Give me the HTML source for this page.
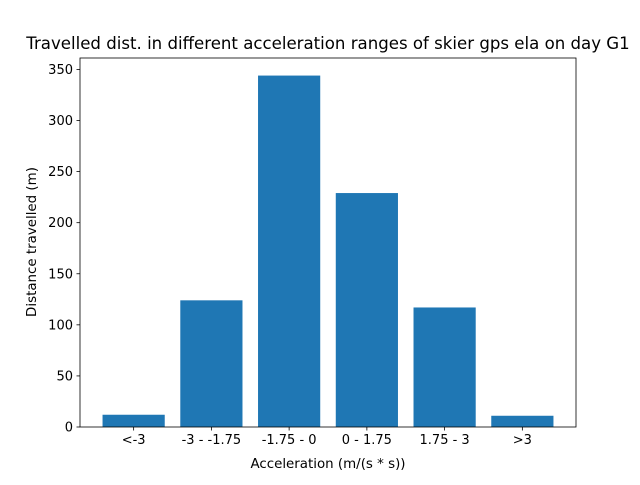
<!DOCTYPE html>
<html><head><meta charset="utf-8"><style>
body{margin:0;background:#fff}
svg text{font-family:"DejaVu Sans","Liberation Sans",sans-serif;fill:#000}
</style></head><body>
<svg width="640" height="480" xmlns="http://www.w3.org/2000/svg">
<rect width="640" height="480" fill="#fff"/>
<g id="plot"></g>
</svg>
<script>
const categories=["<-3","-3 - -1.75","-1.75 - 0","0 - 1.75","1.75 - 3",">3"];
const values=[12,124,344,229,117,11];
const yTicks=[0,50,100,150,200,250,300,350];
const L=80,R=576,T=58,B=427;
const yMax=Math.max(...values)*1.05;
const xMin=-0.4-0.05*(categories.length-1+0.8),xMax=categories.length-1+0.4+0.05*(categories.length-1+0.8);
const sx=v=>L+(v-xMin)/(xMax-xMin)*(R-L);
const sy=v=>B-v/yMax*(B-T);
const g=document.getElementById('plot');
const NS="http://www.w3.org/2000/svg";
function mk(t,a,txt){const e=document.createElementNS(NS,t);for(const k in a)e.setAttribute(k,a[k]);if(txt!==undefined)e.textContent=txt;g.appendChild(e);return e;}
values.forEach((v,i)=>{
 const r=mk('rect',{x:sx(i-0.4),y:sy(v),width:sx(i+0.4)-sx(i-0.4),height:B-sy(v),fill:'#1f77b4'});
 
 
 const tk=mk('line',{x1:sx(i),x2:sx(i),y1:B,y2:B+3.5,stroke:'#000','stroke-width':0.8});
 
 
 const t=mk('text',{x:sx(i),y:B+17,'text-anchor':'middle','font-size':'13'},categories[i]);
 
 
});
yTicks.forEach(v=>{
 const tk=mk('line',{x1:L-3.5,x2:L,y1:sy(v),y2:sy(v),stroke:'#000','stroke-width':0.8});
 
 
 const t=mk('text',{x:L-7,y:sy(v)+4.5,'text-anchor':'end','font-size':'13'},v);
 
 
});
const fr=mk('rect',{x:L,y:T,width:R-L,height:B-T,fill:'none',stroke:'#000','stroke-width':0.8});


const ti=mk('text',{x:(L+R)/2,y:49,'text-anchor':'middle','font-size':'16.6'},'Travelled dist. in different acceleration ranges of skier gps ela on day G1');


const xl=mk('text',{x:(L+R)/2,y:468,'text-anchor':'middle','font-size':'13.4'},'Acceleration (m/(s * s))');


const yl=mk('text',{x:0,y:0,'text-anchor':'middle','font-size':'13.4',transform:'translate(36,242) rotate(-90)'},'Distance travelled (m)');


</script>
</body></html>
